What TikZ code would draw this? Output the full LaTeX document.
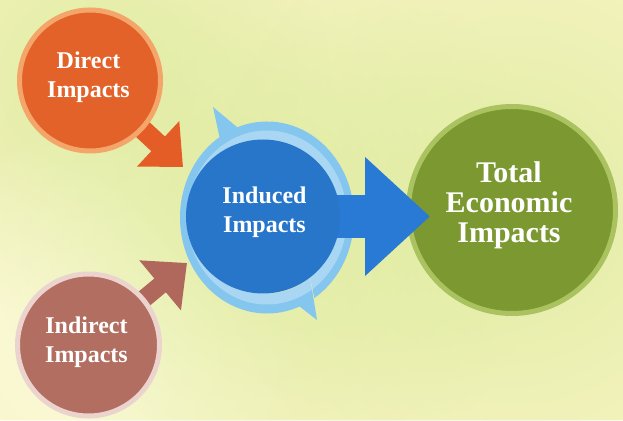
\documentclass[tikz,border=0pt]{standalone}
\usepackage{fontspec}
\setmainfont{Liberation Serif}
\usetikzlibrary{arrows.meta,calc,fadings}
\definecolor{bgc}{RGB}{247,244,194}
\definecolor{glowc}{RGB}{222,236,160}
\definecolor{glowy}{RGB}{252,252,222}
\definecolor{DirFill}{RGB}{226,98,42}
\definecolor{DirRim}{RGB}{244,166,106}
\definecolor{IndFill}{RGB}{178,110,96}
\definecolor{IndRim}{RGB}{236,212,206}
\definecolor{InduFill}{RGB}{40,118,202}
\definecolor{RingCol}{RGB}{132,198,238}
\definecolor{ArrBlue}{RGB}{40,122,212}
\definecolor{ArrOr}{RGB}{228,92,38}
\definecolor{ArrBr}{RGB}{176,104,92}
\definecolor{TotFill}{RGB}{124,152,48}
\definecolor{TotRim}{RGB}{170,194,96}
\tikzfading[name=glowfade, inner color=transparent!0, outer color=transparent!100]
\pgfdeclarelayer{bgl}
\pgfdeclarelayer{low}
\pgfdeclarelayer{mid}
\pgfsetlayers{bgl,low,mid,main}
\tikzset{
  bubble/.style={circle, inner sep=0pt, line width=5pt},
  label24/.style={text=white, align=center, inner sep=0pt,
    font=\fontsize{24}{29.5}\selectfont\bfseries},
  label30/.style={text=white, align=center, inner sep=0pt,
    font=\fontsize{30}{30}\selectfont\bfseries},
  glow/.style={fill=#1, path fading=glowfade, fill opacity=0.9}
}
\begin{document}
\begin{tikzpicture}[x=1pt,y=1pt]
\useasboundingbox (0,0) rectangle (623,420);
\begin{pgfonlayer}{bgl}
  \fill[bgc] (0,0) rectangle (623,420);
  \fill[glow=glowc] (90,339.5) circle[radius=240];
  \fill[glow=glowy] (88,75) circle[radius=220];
  \fill[glow=glowc] (268,204) circle[radius=280];
  \fill[glow=glowc] (512,210) circle[radius=300];
\end{pgfonlayer}
% circles
\begin{pgfonlayer}{low}
  \node[bubble, fill=TotFill, draw=TotRim, minimum size=207pt] (total) at (512,210) {};
\end{pgfonlayer}
\node[bubble, fill=DirFill, draw=DirRim, minimum size=141pt] (direct) at (90,339.5) {};
\node[bubble, fill=IndFill, draw=IndRim, minimum size=142pt] (indirect) at (88.5,75) {};
\node[circle, inner sep=0pt, fill=InduFill, minimum size=154pt] (induced) at (263,203.5) {};
\coordinate (ringc) at (267,202.5);
\coordinate (bluetip) at (430,203.5);
\coordinate (ortip) at (183,253);
\coordinate (brtip) at (187,157);
\begin{pgfonlayer}{mid}
  % circular arrows around induced
  \fill[RingCol] ($(ringc)+(-57:87 and 96)$)
     arc[start angle=-57, end angle=110, x radius=87, y radius=96]
     -- ($(ringc)+(-54,110.5)$) -- ($(ringc)+(128:70 and 76)$)
     arc[start angle=128, end angle=-52, x radius=70, y radius=76] -- cycle;
  \fill[RingCol] ($(ringc)+(123:87 and 96)$)
     arc[start angle=123, end angle=292, x radius=87, y radius=96]
     -- ($(ringc)+(50,-102.5)$) -- ($(ringc)+(308:70 and 76)$)
     arc[start angle=308, end angle=128, x radius=70, y radius=76] -- cycle;
  % soft inner highlight of the ring
  \fill[white, opacity=0.3, even odd rule]
     (ringc) ellipse[x radius=80, y radius=87] (ringc) ellipse[x radius=70, y radius=76];
  % connectors
  \draw[ArrBlue, line width=43pt, -{Triangle[length=65pt,width=115pt]}] (induced.center) -- (bluetip);
  \draw[ArrOr, line width=20pt, -{Triangle[length=34pt,width=60pt]}] (direct.center) -- (ortip);
  \draw[ArrBr, line width=18pt, -{Triangle[length=35pt,width=63pt]}] (indirect.center) -- (brtip);
\end{pgfonlayer}
% labels
\node[label24] (directlabel) at (88.5,342.6) {Direct\\Impacts};
\node[label24] (inducedlabel) at (264.5,207.6) {Induced\\Impacts};
\node[label24] (indirectlabel) at (86.5,77.8) {Indirect\\Impacts};
\node[label30] (totallabel) at (509,215) {Total\\Economic\\Impacts};
\end{tikzpicture}
\end{document}
